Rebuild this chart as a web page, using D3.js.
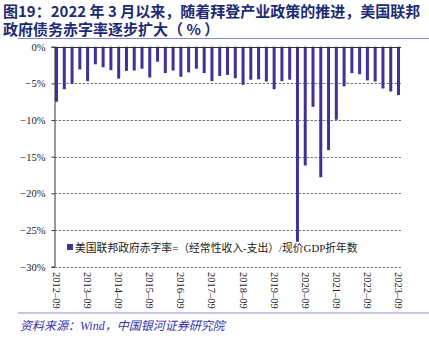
<!DOCTYPE html>
<html>
<head>
<meta charset="utf-8">
<script src="https://cdn.jsdelivr.net/npm/d3@7"></script>
<style>
  html, body { margin: 0; padding: 0; background: #fff; }
  svg { display: block; }
</style>
</head>
<body>
<svg id="chart" width="429" height="342"></svg>
<script>
// Quarterly periods, 2012-09 through 2023-09
const quarters = [
  "2012-09","2012-12","2013-03","2013-06","2013-09","2013-12","2014-03","2014-06",
  "2014-09","2014-12","2015-03","2015-06","2015-09","2015-12","2016-03","2016-06",
  "2016-09","2016-12","2017-03","2017-06","2017-09","2017-12","2018-03","2018-06",
  "2018-09","2018-12","2019-03","2019-06","2019-09","2019-12","2020-03","2020-06",
  "2020-09","2020-12","2021-03","2021-06","2021-09","2021-12","2022-03","2022-06",
  "2022-09","2022-12","2023-03","2023-06","2023-09"
];
// Federal deficit ratio, % of nominal GDP (annualised)
const deficit = [
  -7.5,-5.8,-5.05,-3.1,-4.7,-2.4,-2.8,-3.2,
  -4.35,-3.3,-3.25,-3.0,-4.2,-2.05,-3.6,-3.25,
  -4.1,-3.5,-3.0,-3.6,-4.7,-4.0,-3.85,-4.3,
  -5.2,-4.5,-4.45,-4.75,-5.8,-4.7,-4.5,-26.6,
  -16.2,-8.2,-17.8,-14.1,-9.95,-5.4,-3.6,-3.75,
  -4.6,-4.75,-5.7,-6.1,-6.6
];
const tickLabels = ["2012-09","2013-09","2014-09","2015-09","2016-09","2017-09",
  "2018-09","2019-09","2020-09","2021-09","2022-09","2023-09"];
const yTicks = [0, -5, -10, -15, -20, -25, -30];

const titleLines = [
  "图19：2022 年 3 月以来，随着拜登产业政策的推进，美国联邦",
  "政府债务赤字率逐步扩大（ % ）"
];
const legendText = "美国联邦政府赤字率=（经常性收入-支出）/现价GDP折年数";
const sourceText = "资料来源：Wind，中国银河证券研究院";

const svg = d3.select("#chart");
const serif = "'Liberation Serif', 'Times New Roman', 'Noto Sans CJK SC', serif";

const barColor = "#3f3297";
const axisLeft = 54.5;

const x = d3.scalePoint().domain(quarters).range([56.5, 398.5]);
const y = d3.scaleLinear().domain([-30, 0]).range([266.7, 46.7]);

// Title: one text block, two lines
svg.append("text")
  .attr("font-family", "'Noto Sans CJK SC', sans-serif")
  .attr("font-weight", "bold")
  .attr("font-size", 15)
  .attr("fill", "#1e2a72")
  .selectAll("tspan").data(titleLines).join("tspan")
  .attr("x", 3)
  .attr("y", (d, i) => 16.5 + i * 18.5)
  .text(d => d);

// Separators
svg.append("line").attr("x1", 18).attr("x2", 429).attr("y1", 38.5).attr("y2", 38.5)
  .attr("stroke", "#8585c8").attr("stroke-width", 1);
svg.append("line").attr("x1", 18).attr("x2", 429).attr("y1", 313).attr("y2", 313)
  .attr("stroke", "#c6c6e8").attr("stroke-width", 2);

// Gridlines
svg.append("g").selectAll("line").data(yTicks.filter(v => v !== 0)).join("line")
  .attr("x1", axisLeft).attr("x2", 401)
  .attr("y1", d => Math.round(y(d)) + 0.5).attr("y2", d => Math.round(y(d)) + 0.5)
  .attr("stroke", "#555").attr("stroke-width", 0.8)
  .attr("stroke-dasharray", "2.5,1.5");

// Bars
svg.append("g").selectAll("rect").data(deficit).join("rect")
  .attr("x", (d, i) => x(quarters[i]) - 1.5)
  .attr("y", y(0))
  .attr("width", 3)
  .attr("height", d => y(d) - y(0))
  .attr("fill", barColor);

// Zero line
svg.append("line").attr("x1", axisLeft).attr("x2", 401)
  .attr("y1", Math.round(y(0)) + 0.5).attr("y2", Math.round(y(0)) + 0.5)
  .attr("stroke", "#333").attr("stroke-width", 1);

// Y axis
const yAxis = d3.axisLeft(y).tickValues(yTicks).tickSize(3).tickPadding(6)
  .tickFormat(d => (d < 0 ? "\u2212" + Math.abs(d) : d) + "%");
const gy = svg.append("g").attr("transform", `translate(${axisLeft},0)`).call(yAxis);
gy.select(".domain").attr("stroke", "#333");
gy.selectAll(".tick line").attr("stroke", "#333");
gy.selectAll("text").attr("font-family", serif).attr("font-size", 10.5).attr("fill", "#222");

// X axis labels, rotated
svg.append("g").selectAll("text").data(tickLabels).join("text")
  .attr("transform", d => `translate(${x(d) - 3.5},272) rotate(90)`)
  .attr("font-family", serif)
  .attr("font-size", 10.5)
  .attr("fill", "#222")
  .text(d => d.replace("-", "\u2013"));

// Legend
svg.append("rect").attr("x", 67).attr("y", 244).attr("width", 6).attr("height", 6)
  .attr("fill", barColor);
svg.append("text").attr("x", 75).attr("y", 251.5)
  .attr("font-family", serif).attr("font-size", 10.8).attr("fill", "#222")
  .text(legendText);

// Source
svg.append("text").attr("x", 20).attr("y", 330)
  .attr("font-family", serif).attr("font-style", "italic")
  .attr("font-size", 12).attr("fill", "#3434a8")
  .text(sourceText);
</script>
</body>
</html>
